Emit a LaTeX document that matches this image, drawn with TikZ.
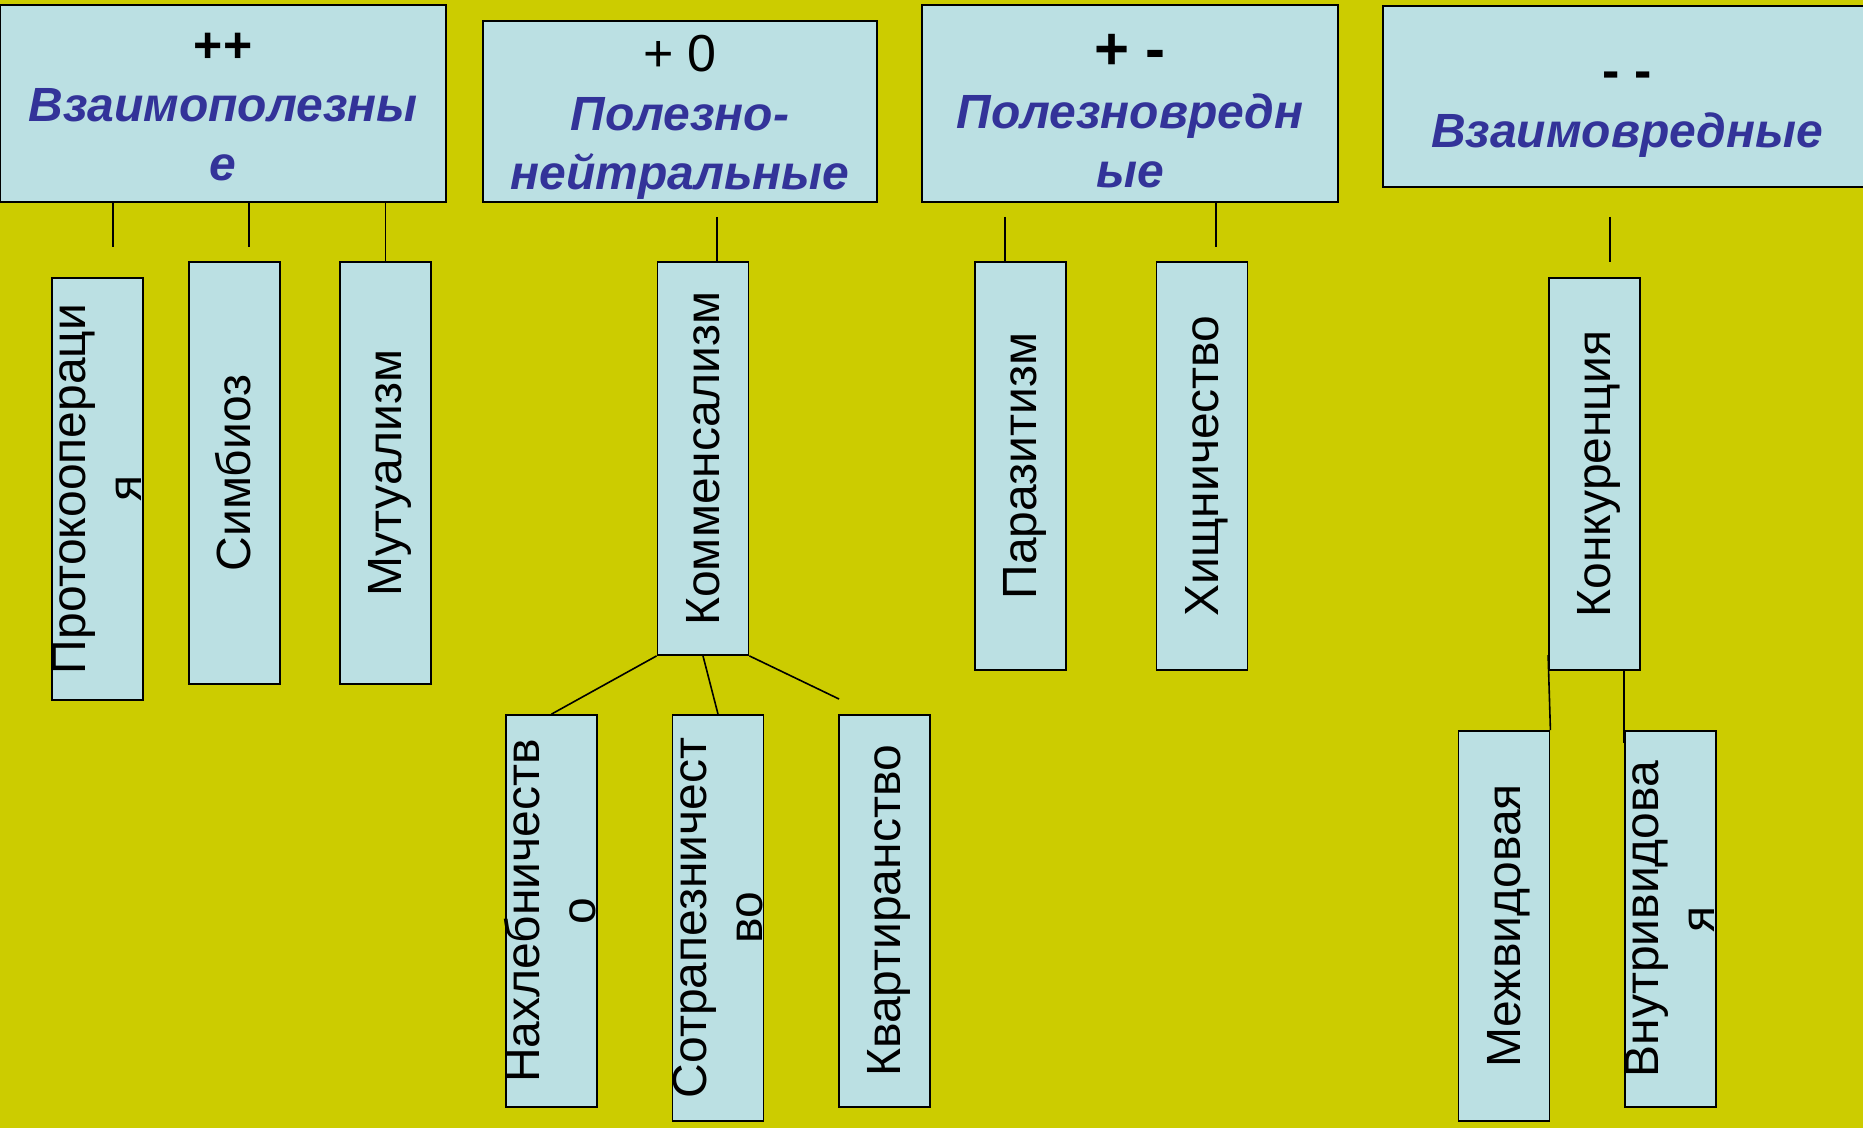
\documentclass[tikz,border=0pt]{standalone}
\usepackage{fontspec}
\setmainfont{Liberation Sans}
\usetikzlibrary{positioning,calc}
\definecolor{bgolive}{RGB}{204,204,0}
\definecolor{boxblue}{RGB}{187,224,227}
\definecolor{hdrblue}{RGB}{51,51,153}
\newcommand{\vtext}[1]{\makebox[0pt]{\rotatebox{90}{\begin{tabular}{@{}c@{}}#1\end{tabular}}}}
\newcommand{\signtxt}[2]{{\fontsize{#1}{#1}\selectfont\upshape\color{black}#2}}
\newcommand{\hdrtop}[1]{\rule{0pt}{#1}}
\newcommand{\hdrbot}[1]{\rule[-#1]{0pt}{0pt}}

\begin{document}
\begin{tikzpicture}[x=0.5pt, y=-0.5pt]
  \tikzstyle{hdr}=[rectangle, draw, line width=0.9pt, fill=boxblue, inner sep=0pt, align=center, font=\fontsize{24}{29.5}\selectfont\bfseries\itshape, text=hdrblue]
  \tikzstyle{leaf}=[rectangle, draw, line width=0.9pt, fill=boxblue, inner sep=0pt, minimum width=45.5pt, font=\fontsize{24}{28}\selectfont\setbox\strutbox\hbox{\vrule height 22.1pt depth 5.9pt width 0pt}]
  \tikzstyle{link}=[line width=0.8pt]

  \useasboundingbox (0,0) rectangle (1863,1128);
  \clip (0,0) rectangle (1863,1128);
  \fill[bgolive] (0,0) rectangle (1863,1128);

  % Headers
  \node[hdr, minimum width=223pt, minimum height=98.5pt] (hA) at (223,103.5) {\hdrtop{26.1pt}\signtxt{25}{\bfseries ++}\\Взаимополезны\\е\hdrbot{8pt}};
  \node[hdr, minimum width=197pt, minimum height=90.5pt] (hB) at (680,111.5) {\hdrtop{25.5pt}\signtxt{26}{\mdseries + 0}\\Полезно-\\нейтральные\hdrbot{6pt}};
  \node[hdr, minimum width=208pt, minimum height=98.5pt] (hC) at (1130,103.5) {\hdrtop{32pt}\signtxt{30}{+ -}\\Полезновредн\\ые\hdrbot{6.5pt}};
  \node[hdr, minimum width=244pt, minimum height=90.5pt] (hD) at (1627,96.5) {\hdrtop{30pt}\signtxt{26}{- -}\\Взаимовредные\hdrbot{8pt}};

  % ++
  \node[leaf, minimum height=211pt] (proto) at (97.5,489) {\vtext{Протокоопераци\\я}};
  \node[leaf, minimum height=211pt] (simb) at (234.5,473) {\vtext{Симбиоз}};
  \node[leaf, minimum height=211pt] (mutu) at (385.5,473) {\vtext{Мутуализм}};

  % + 0
  \node[leaf, minimum height=196.5pt] (komm) at (703,458.5) {\vtext{Комменсализм}};
  \node[leaf, minimum height=196pt] (nakh) at (551.5,911) {\vtext{Нахлебничеств\\о}};
  \node[leaf, minimum height=203pt] (sotr) at (718,918) {\vtext{Сотрапезничест\\во}};
  \node[leaf, minimum height=196pt] (kvar) at (884.5,911) {\vtext{Квартиранство}};

  % + -
  \node[leaf, minimum height=204pt] (para) at (1020.5,466) {\vtext{Паразитизм}};
  \node[leaf, minimum height=204pt] (khis) at (1202,466) {\vtext{Хищничество}};

  % - -
  \node[leaf, minimum height=196pt] (konk) at (1594.5,474) {\vtext{Конкуренция}};
  \node[leaf, minimum height=195pt] (mezh) at (1504,926) {\vtext{Межвидовая}};
  \node[leaf, minimum height=188pt] (vnut) at (1670.5,919) {\vtext{Внутривидова\\я}};

  % Connectors
  \coordinate (tP) at (113,247);
  \coordinate (tS) at (249,247);
  \coordinate (tK) at (717,217);
  \coordinate (tPa) at (1005,217);
  \coordinate (tX) at (1216,247);
  \coordinate (tKo) at (1610,217);
  \coordinate (bKo) at (1610,262);
  \coordinate (kv) at (839,699);
  \draw[link] (hA.south -| tP) -- (tP);
  \draw[link] (hA.south -| tS) -- (tS);
  \draw[link] (hA.south -| mutu.north) -- (mutu.north);
  \draw[link] (tK) -- (tK |- komm.north);
  \draw[link] (tPa) -- (tPa |- para.north);
  \draw[link] (hC.south -| tX) -- (tX);
  \draw[link] (tKo) -- (bKo);
  \draw[link] (komm.south west) -- (nakh.north);
  \draw[link] (komm.south) -- (sotr.north);
  \draw[link] (komm.south east) -- (kv);
  \draw[link] (konk.west |- 0,655) -- (mezh.north east);
  \draw[link] (konk.south -| vnut.north west) -- ($(vnut.north west)+(0,13)$);
\end{tikzpicture}
\end{document}
